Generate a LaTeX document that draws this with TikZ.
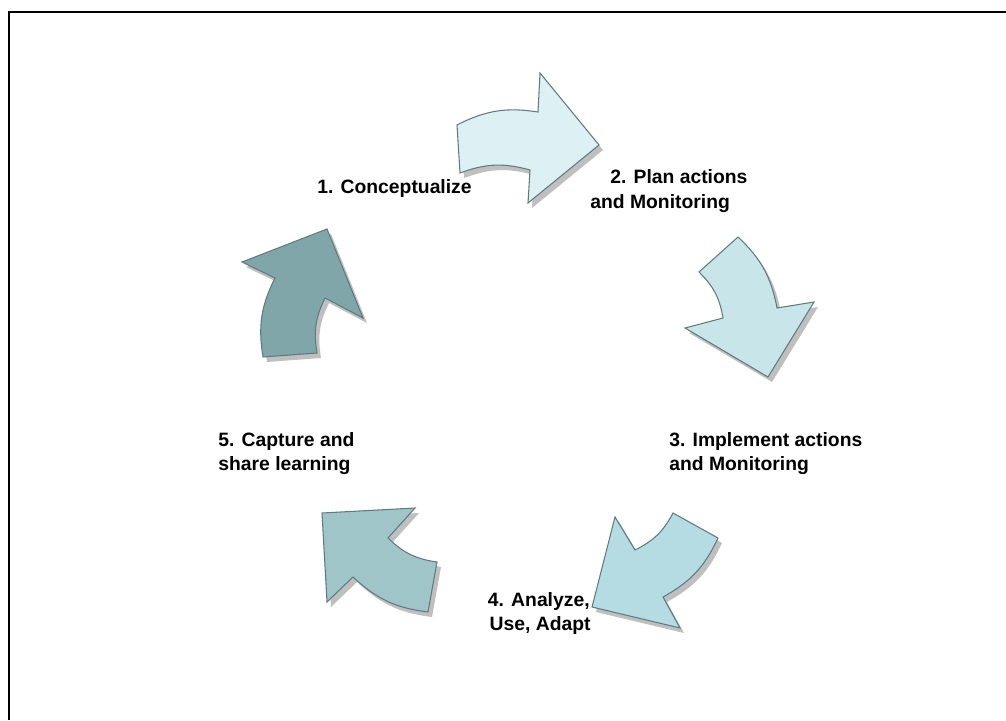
\documentclass[tikz,border=0pt]{standalone}
\usepackage{fontspec}
\setmainfont{Liberation Sans}
\begin{document}
\begin{tikzpicture}[x=0.02cm,y=-0.02cm,
  arr/.style={draw=arrline,line width=0.6pt,line join=miter},
  shad/.style={fill=black!25},
  lbl/.style={font=\fontsize{11}{14}\selectfont\bfseries,inner sep=0pt},
  bl/.style={bend left=18},
  br/.style={bend right=18}]
\definecolor{arrline}{HTML}{5E7C7E}
\definecolor{cA}{HTML}{DDF0F3}
\definecolor{cB}{HTML}{C8E5EA}
\definecolor{cC}{HTML}{B4DCE2}
\definecolor{cD}{HTML}{9FC5C8}
\definecolor{cE}{HTML}{80A6A9}
\useasboundingbox (0,0) rectangle (1006,720);
\fill[white] (0,0) rectangle (1006,720);
\draw[line width=1.4pt] (9,720) -- (9,12) -- (1006,12);
% arrow 1
\begin{scope}[shift={(4,5)}]
\fill[shad] (460,173) -- (457,125) to[bl] (538,112) -- (540,73) -- (599,145) -- (528,203) -- (530,170) to[br] (460,173) -- cycle;
\end{scope}
\draw[arr,fill=cA] (460,173) -- (457,125) to[bl] (538,112) -- (540,73) -- (599,145) -- (528,203) -- (530,170) to[br] (460,173) -- cycle;
% arrow 2
\begin{scope}[shift={(4,5)}]
\fill[shad] (699,272) -- (738,237) to[bl] (777,308) -- (814,302) -- (768,377) -- (685,328) -- (723,318) to[br] (699,272) -- cycle;
\end{scope}
\draw[arr,fill=cB] (699,272) -- (738,237) to[bl] (777,308) -- (814,302) -- (768,377) -- (685,328) -- (723,318) to[br] (699,272) -- cycle;
% arrow 3
\begin{scope}[shift={(4,5)}]
\fill[shad] (673,513) -- (718,538) to[bl] (663,597) -- (680,628) -- (592,607) -- (615,517) -- (635,550) to[br] (673,513) -- cycle;
\end{scope}
\draw[arr,fill=cC] (673,513) -- (718,538) to[bl] (663,597) -- (680,628) -- (592,607) -- (615,517) -- (635,550) to[br] (673,513) -- cycle;
% arrow 4
\begin{scope}[shift={(4,5)}]
\fill[shad] (437,562) -- (428,612) to[bl] (353,577) -- (327,602) -- (322,513) -- (415,508) -- (388,538) to[br] (437,562) -- cycle;
\end{scope}
\draw[arr,fill=cD] (437,562) -- (428,612) to[bl] (353,577) -- (327,602) -- (322,513) -- (415,508) -- (388,538) to[br] (437,562) -- cycle;
% arrow 5
\begin{scope}[shift={(4,5)}]
\fill[shad] (317,353) -- (263,357) to[bl] (275,278) -- (242,262) -- (327,229) -- (363,318) -- (325,298) to[br] (317,353) -- cycle;
\end{scope}
\draw[arr,fill=cE] (317,353) -- (263,357) to[bl] (275,278) -- (242,262) -- (327,229) -- (363,318) -- (325,298) to[br] (317,353) -- cycle;
% labels
\node[lbl,anchor=base east] (l1) at (472,193) {1. Conceptualize};
\node[lbl,anchor=base west] (l2a) at (610,183) {2. Plan actions};
\node[lbl,anchor=base west] (l2b) at (590,208) {and Monitoring};
\node[lbl,anchor=base west] (l3a) at (669,446) {3. Implement actions};
\node[lbl,anchor=base west] (l3b) at (669,470) {and Monitoring};
\node[lbl,anchor=base east] (l4a) at (590,606) {4. Analyze,};
\node[lbl,anchor=base east] (l4b) at (591,630) {Use, Adapt};
\node[lbl,anchor=base west] (l5a) at (218,446) {5. Capture and};
\node[lbl,anchor=base west] (l5b) at (218,470) {share learning};
\end{tikzpicture}
\end{document}
